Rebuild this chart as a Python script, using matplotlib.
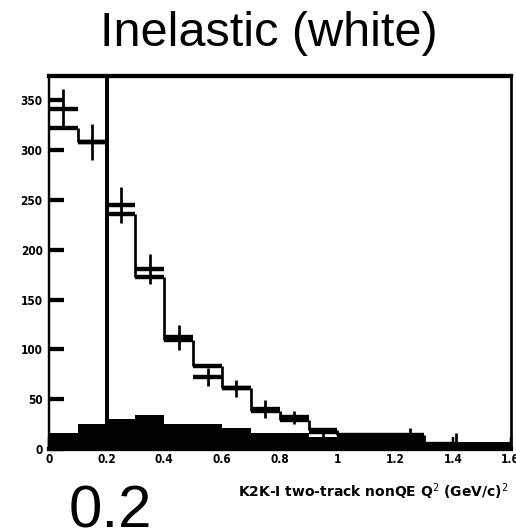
import matplotlib
matplotlib.use("Agg")
import matplotlib.pyplot as plt
import numpy as np

# ---- data ----
bin_edges = [0.0, 0.1, 0.2, 0.3, 0.4, 0.5, 0.6, 0.7, 0.8, 0.9, 1.0, 1.1, 1.2, 1.3, 1.4, 1.5, 1.6]
mc_inelastic = [322, 308, 236, 173, 109, 83, 61, 38, 29, 19, 14, 14, 14, 5, 4, 3]   # white histogram
mc_black = [16, 25, 30, 34, 25, 25, 21, 16.4, 16.4, 12.4, 16.4, 16.4, 16.4, 7.3, 7.3, 7.3]  # filled histogram
data_x = [0.05, 0.15, 0.25, 0.35, 0.45, 0.55, 0.65, 0.75, 0.85, 0.95, 1.25, 1.41]
data_y = [341, 308, 245, 181, 112, 72, 61, 40, 32, 17, 13, 4]
data_yerr = [20, 18, 18, 15, 13, 9, 8.5, 9, 6.5, 4.5, 8, 12]
data_xerr = [0.05] * len(data_x)
cut_value = 0.2
x_ticks = [0, 0.2, 0.4, 0.6, 0.8, 1.0, 1.2, 1.4, 1.6]
x_ticklabels = ["0", "0.2", "0.4", "0.6", "0.8", "1", "1.2", "1.4", "1.6"]
y_ticks = [0, 50, 100, 150, 200, 250, 300, 350]

W, H = 516, 532
fig = plt.figure(figsize=(W / 100, H / 100), dpi=100)
ax = fig.add_axes([48.8 / W, 1 - 449 / H, (510.7 - 48.8) / W, (449 - 75.5) / H])

px = 0.72  # points per pixel at dpi 100
thick = 4.4 * px
thin = 2.7 * px

edges = np.array(bin_edges)
h = np.array(mc_inelastic, dtype=float)

# filled black histogram
ax.stairs(mc_black, edges, fill=True, color="black", lw=0, zorder=2)

# white (open) histogram: horizontal parts thick, vertical parts thin
ax.hlines(h, edges[:-1], edges[1:], colors="black", lw=thick, capstyle="butt", zorder=3)
ax.vlines(edges[1:-1], np.minimum(h[:-1], h[1:]), np.maximum(h[:-1], h[1:]),
          colors="black", lw=thin, zorder=3)

# data points
ax.errorbar(data_x, data_y, yerr=data_yerr, fmt="none", ecolor="black",
            elinewidth=thin, capsize=0, zorder=4)
ax.errorbar(data_x, data_y, xerr=data_xerr, fmt="none", ecolor="black",
            elinewidth=thick, capsize=0, zorder=4)

# cut line
ax.axvline(cut_value, color="black", lw=4.0 * px, zorder=5)

ax.set_xlim(0, 1.6)
ax.set_ylim(0, 375)
ax.set_xticks(x_ticks)
ax.set_xticklabels(x_ticklabels)
ax.set_yticks(y_ticks)

for side, lw in [("top", 4.3), ("bottom", 4.3), ("left", 2.4), ("right", 2.7)]:
    ax.spines[side].set_linewidth(lw * px)
    ax.spines[side].set_color("black")

ax.tick_params(axis="y", direction="in", length=15 * px, width=4.3 * px,
               pad=4.5, labelsize=8.5)
ax.tick_params(axis="x", direction="in", length=12 * px, width=2.5 * px,
               pad=3, labelsize=8.5)
for lab in ax.get_xticklabels() + ax.get_yticklabels():
    lab.set_fontweight("bold")
    lab.set_fontstretch("condensed")

fig.text(508 / W, 1 - 492 / H, "K2K-I two-track nonQE Q$^2$ (GeV/c)$^2$",
         ha="right", va="center", fontsize=10, fontweight="bold")

fig.text(268.5 / W, 1 - 46 / H, "Inelastic (white)", ha="center", va="baseline",
         fontsize=35, family="Liberation Sans")
fig.text(110 / W, 1 - 527 / H, "0.2", ha="center", va="baseline",
         fontsize=43, family="Liberation Sans")

fig.savefig("out.png", dpi=100)
